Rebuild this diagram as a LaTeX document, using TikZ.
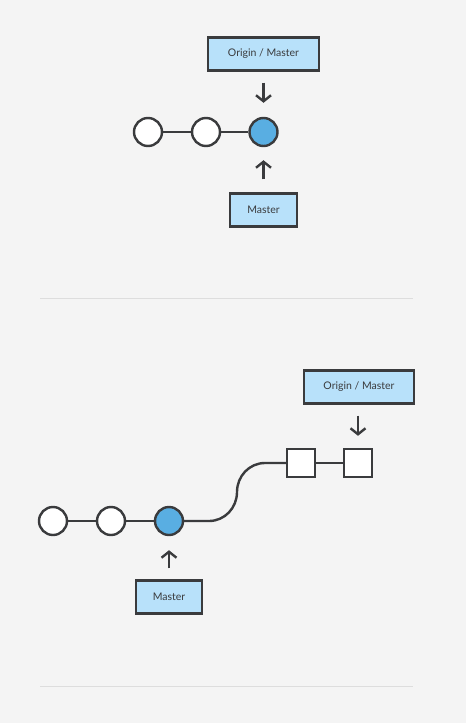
\documentclass[tikz,border=0pt]{standalone}
\usepackage{fontspec}
\setmainfont{Lato}
\usetikzlibrary{arrows.meta,positioning}
\definecolor{bgcol}{HTML}{F4F4F4}
\definecolor{ink}{HTML}{3A3B3D}
\definecolor{tagblue}{HTML}{B8E1FA}
\definecolor{headblue}{HTML}{59AEE2}
\definecolor{rulegray}{HTML}{DDDDDD}

\begin{document}
\begin{tikzpicture}[x=1pt,y=-1pt,font=\fontsize{10.5}{12}\selectfont,
  commit/.style={circle,draw=ink,line width=2.4pt,fill=white,minimum size=28pt,inner sep=0pt},
  remote/.style={rectangle,draw=ink,line width=2.4pt,fill=white,minimum size=28pt,inner sep=0pt},
  tag/.style={rectangle,draw=ink,line width=2.4pt,fill=tagblue,text=ink,minimum height=33pt,inner sep=0pt},
  link/.style={draw=ink,line width=2.4pt},
  pointer/.style={draw=ink,line width=2.4pt,-{Straight Barb[length=6pt,width=15pt,line width=2.4pt]}}]
\fill[bgcol] (0,0) rectangle (466,723);
\useasboundingbox (0,0) rectangle (466,723);

% before fetch
\foreach \n/\x in {1/148,2/206}
  \node[commit] (a\n) at (\x,132) {};
\node[commit,fill=headblue] (a3) at (263.5,132) {};
\draw[link] (a1) -- (a2) -- (a3);
\node[tag,minimum width=111pt] (aorigin) at (263.5,54) {Origin / Master};
\node[tag,minimum width=67pt] (amaster) at (263.5,210) {Master};
\draw[pointer,shorten <=11pt,shorten >=14pt] (aorigin) -- (a3);
\draw[pointer,shorten <=13pt,shorten >=13pt] (amaster) -- (a3);

\draw[rulegray,line width=1pt] (40,298) -- (413,298);

% after fetch
\foreach \n/\x in {1/53,2/111}
  \node[commit] (b\n) at (\x,521) {};
\node[commit,fill=headblue] (b3) at (169,521) {};
\node[remote] (r1) at (301,463) {};
\node[remote] (r2) at (358,463) {};
\coordinate (bendin) at (209,521);
\coordinate (bend) at (237,492);
\coordinate (bendout) at (265,463);
\draw[link] (b1) -- (b2) -- (b3);
\draw[link] (b3) -- (bendin) to[out=0,in=-90] (bend) to[out=90,in=180] (bendout) -- (r1);
\draw[link] (r1) -- (r2);
\node[tag,minimum width=110pt] (borigin) at (359,387) {Origin / Master};
\node[tag,minimum width=66pt] (bmaster) at (169,597) {Master};
\draw[pointer,shorten <=11pt,shorten >=12pt] (borigin.south -| r2) -- (r2);
\draw[pointer,shorten <=11pt,shorten >=14pt] (bmaster) -- (b3);

\draw[rulegray,line width=1pt] (40,686) -- (413,686);
\end{tikzpicture}
\end{document}
